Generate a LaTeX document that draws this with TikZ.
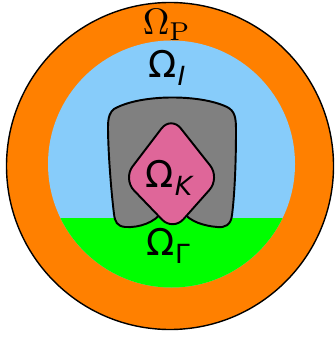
\documentclass[tikz,border=0pt]{standalone}
\usepackage{fontspec}
\newfontfamily\labfont{DejaVu Sans}
\definecolor{ringorange}{RGB}{255,128,0}
\definecolor{skyblue}{RGB}{135,204,250}
\definecolor{groundgreen}{RGB}{0,255,0}
\definecolor{bodygray}{RGB}{128,128,128}
\definecolor{corepink}{RGB}{223,102,153}
\newcommand{\omlab}[1]{{\labfont\fontsize{21}{21}\selectfont \char"03A9\kern0.5pt\raisebox{-0.4ex}{\fontsize{15}{15}\selectfont #1}}}
\begin{document}
\begin{tikzpicture}[x=0.02cm,y=-0.02cm,
  outline/.style={draw=black,line width=1.1pt,line join=round},
  lab/.style={inner sep=0pt,anchor=center}]
\useasboundingbox (0,0) rectangle (335,337);

% outer ring and inner domain
\filldraw[fill=ringorange,draw=black,line width=0.8pt] (170,166) circle (163.5);
\fill[skyblue] (171.5,164) circle (123.5);
\begin{scope}
\clip (171.5,164) circle (123.5);
\fill[groundgreen] (0,218) rectangle (335,337);
\end{scope}

% gray body
\filldraw[outline,fill=bodygray] (114,109) .. controls (140,94) and (200,94) .. (227,107)
  .. controls (235,111) and (236,118) .. (236,130)
  .. controls (236,170) and (234,200) .. (232,215)
  .. controls (231,225) and (225,228) .. (217,227)
  .. controls (205,226) and (190,222) .. (183,212)
  -- (173,200) -- (162,212)
  .. controls (155,222) and (140,228) .. (125,227)
  .. controls (117,226) and (115,222) .. (114,214)
  .. controls (111,190) and (108,150) .. (108,127)
  .. controls (108,117) and (110,112) .. (114,109) -- cycle;

% pink core
\filldraw[outline,fill=corepink,rounded corners=9pt] (171,116) -- (220,178) -- (173,231) -- (123,179) -- cycle;

\node[lab,scale=2.1] (omP) at (167,25) {$\Omega_{\mathrm{P}}$};
\node[lab] (omI) at (167,68) {\omlab{\itshape I}};
\node[lab] (omK) at (169,178) {\omlab{\itshape K}};
\node[lab] (omG) at (168,246) {\omlab{\char"0393}};
\end{tikzpicture}
\end{document}
